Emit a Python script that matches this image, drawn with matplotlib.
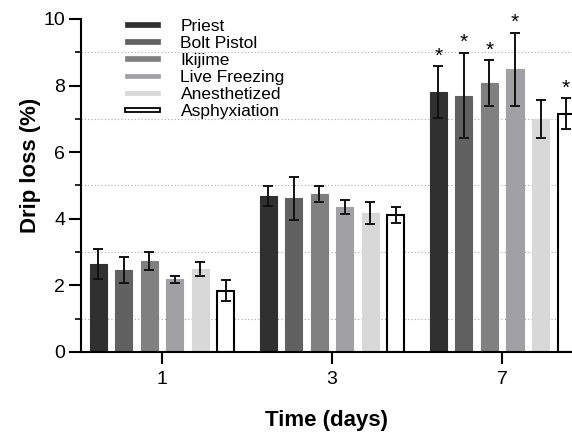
import numpy as np
import matplotlib.pyplot as plt
from matplotlib.ticker import MultipleLocator

plt.rcParams['font.family'] = ['Liberation Sans', 'DejaVu Sans']

days = ['1', '3', '7']
methods = ['Priest', 'Bolt Pistol', 'Ikijime', 'Live Freezing', 'Anesthetized', 'Asphyxiation']

# drip loss means per method, for day 1, 3, 7
priest = [2.63, 4.68, 7.80]
bolt = [2.46, 4.61, 7.70]
ikijime = [2.73, 4.74, 8.07]
freezing = [2.18, 4.36, 8.49]
anesth = [2.49, 4.17, 7.00]
asphyx = [1.84, 4.11, 7.16]

priest_err = [0.45, 0.31, 0.78]
bolt_err = [0.38, 0.65, 1.28]
ikijime_err = [0.27, 0.25, 0.69]
freezing_err = [0.10, 0.21, 1.09]
anesth_err = [0.20, 0.33, 0.56]
asphyx_err = [0.32, 0.25, 0.46]

# significance marks (day 7)
signif = [[False, False, True], [False, False, True], [False, False, True],
          [False, False, True], [False, False, False], [False, False, True]]

means = [priest, bolt, ikijime, freezing, anesth, asphyx]
errs = [priest_err, bolt_err, ikijime_err, freezing_err, anesth_err, asphyx_err]
colors = ['#303030', '#616161', '#808080', '#a1a1a5', '#d8d8d8', 'white']
edges = ['#303030', '#616161', '#808080', '#a1a1a5', '#d8d8d8', 'black']

fig = plt.figure(figsize=(5.72, 4.32), dpi=100)
ax = fig.add_axes([81/572, 80/432, 1 - 81/572, (352-19)/432])

x = np.arange(len(days))
step = 0.15
width = 0.1
for i in range(len(methods)):
    pos = x + (i - 2.5) * step
    ax.bar(pos, means[i], width, color=colors[i], edgecolor=edges[i],
           linewidth=1.5 if i == 5 else 0.8, label=methods[i], zorder=2)
    ax.errorbar(pos, means[i], yerr=errs[i], fmt='none', ecolor='#111111',
                elinewidth=1.4, capsize=3.5, capthick=1.4, zorder=3)
    for j in range(len(days)):
        if signif[i][j]:
            ax.text(pos[j], means[i][j] + errs[i][j] + 0.02, '*', ha='center',
                    va='bottom', fontsize=15)

ax.set_xlim(-0.476, 2.41)
ax.set_ylim(0, 10)
ax.set_xticks(x)
ax.set_xticklabels(days)
ax.yaxis.set_major_locator(MultipleLocator(2))
ax.set_yticks([1, 3, 5, 7, 9], minor=True)
ax.grid(axis='y', which='minor', linestyle=(0, (1, 2)), color='#aaaaaa',
        linewidth=0.8, zorder=0)

for s in ['top', 'right']:
    ax.spines[s].set_visible(False)
for s in ['left', 'bottom']:
    ax.spines[s].set_linewidth(1.5)

ax.tick_params(axis='both', which='major', length=8.5, width=1.5,
               labelsize=14, pad=3)
ax.tick_params(axis='x', which='major', pad=5)
ax.tick_params(axis='y', which='minor', length=4, width=1.2)
ax.tick_params(axis='x', which='minor', length=0)

ax.set_xlabel('Time (days)', fontsize=16, fontweight='bold', labelpad=16)
ax.set_ylabel('Drip loss (%)', fontsize=16, fontweight='bold')
ax.yaxis.set_label_coords(-0.082, 0.56)

leg = ax.legend(loc='upper left', bbox_to_anchor=(118/572, 1 - 12/432),
                bbox_transform=fig.transFigure, frameon=False, fontsize=12.5,
                handlelength=2.0, handleheight=0.15, labelspacing=0.12,
                handletextpad=1.2, borderaxespad=0)
# thin flat legend keys
for h in leg.legend_handles:
    y0, hh = h.get_y(), h.get_height()
    h.set_height(3.4)
    h.set_y(y0 + (hh - 3.4) / 2)
    h.set_linewidth(0.5 if h.get_facecolor()[0] < 0.99 else 1.3)

fig.savefig('out.png', dpi=100)
